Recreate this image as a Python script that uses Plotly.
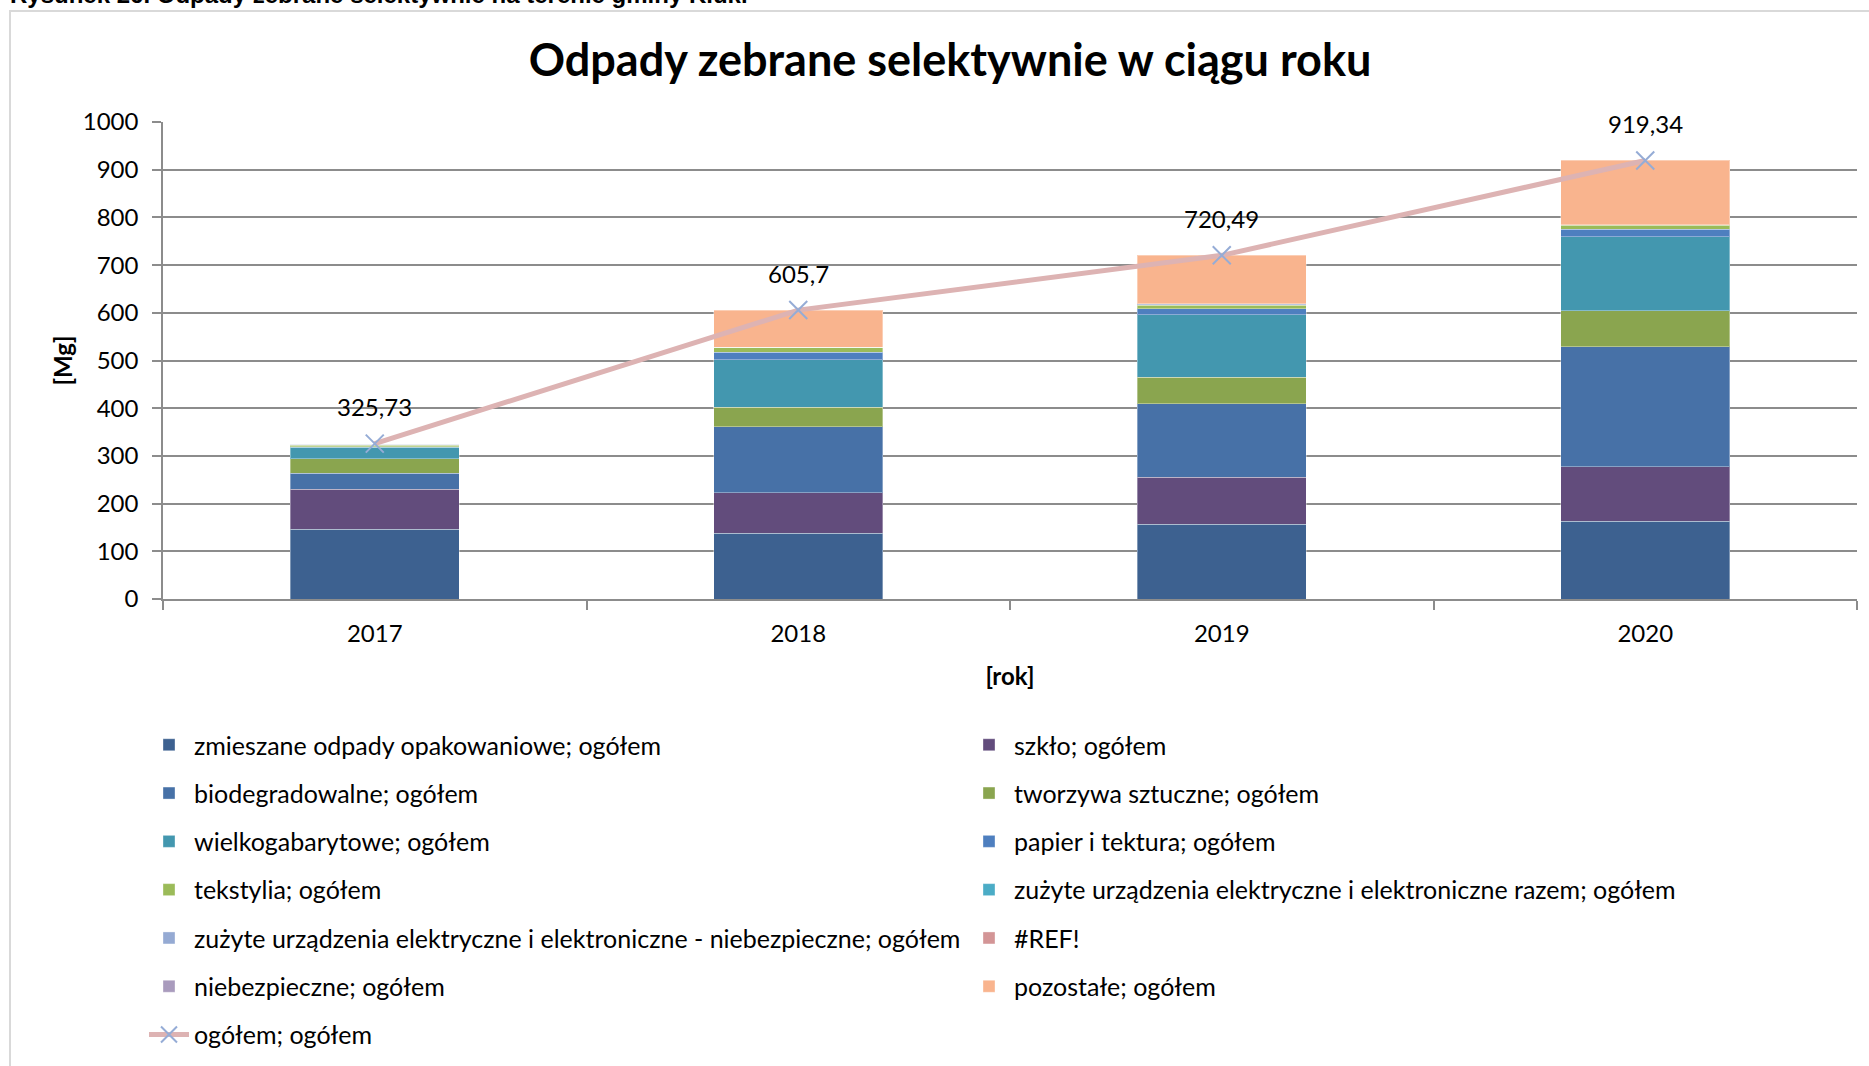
import plotly.graph_objects as go

# ---------------- data ----------------
years = ["2017", "2018", "2019", "2020"]

zmieszane = [146.0, 137.6, 156.4, 163.4]
szklo = [84.5, 85.1, 98.6, 113.8]
biodegradowalne = [33.5, 138.3, 154.0, 251.4]
tworzywa = [30.0, 40.6, 56.0, 76.2]
wielkogabarytowe = [24.0, 100.4, 131.4, 154.8]
papier = [1.5, 15.5, 12.0, 15.4]
tekstylia = [3.0, 9.8, 7.0, 8.6]
zuzyte_razem = [1.0, 0.0, 1.0, 0.5]
zuzyte_niebezp = [0.5, 0.0, 2.5, 0.0]
ref_err = [0.0, 0.0, 0.0, 0.0]
niebezpieczne = [0.5, 0.3, 0.5, 0.5]
pozostale = [1.23, 78.1, 101.09, 134.74]
ogolem = [325.73, 605.7, 720.49, 919.34]
ogolem_labels = ["325,73", "605,7", "720,49", "919,34"]

series_names = [
    "zmieszane odpady opakowaniowe; ogółem",
    "szkło; ogółem",
    "biodegradowalne; ogółem",
    "tworzywa sztuczne; ogółem",
    "wielkogabarytowe; ogółem",
    "papier i tektura; ogółem",
    "tekstylia; ogółem",
    "zużyte urządzenia elektryczne i elektroniczne razem; ogółem",
    "zużyte urządzenia elektryczne i elektroniczne - niebezpieczne; ogółem",
    "#REF!",
    "niebezpieczne; ogółem",
    "pozostałe; ogółem",
]
series_values = [zmieszane, szklo, biodegradowalne, tworzywa, wielkogabarytowe,
                 papier, tekstylia, zuzyte_razem, zuzyte_niebezp, ref_err,
                 niebezpieczne, pozostale]
series_colors = ["#3D6190", "#624C7C", "#4771A7", "#8AA54F", "#4397AF", "#4E7FBF",
                 "#9BBB59", "#4BACC6", "#95AAD3", "#D39596", "#A99BBD", "#F9B48E"]
series_legend = ["legend", "legend2", "legend", "legend2", "legend", "legend2",
                 "legend", "legend2", "legend", "legend2", "legend", "legend2"]

line_name = "ogółem; ogółem"

FONT = "Lato"

fig = go.Figure()
for i, (name, vals, col, lg) in enumerate(zip(series_names, series_values, series_colors, series_legend)):
    fig.add_trace(go.Bar(
        x=years, y=vals, name=name,
        marker=dict(color=col, line=dict(color="rgba(255,255,255,0.35)", width=1)),
        width=0.4, legend=lg, legendgroup="g%d" % i,
    ))

fig.add_trace(go.Scatter(
    x=years, y=ogolem, name=line_name, mode="lines+markers",
    line=dict(color="#DDB3B3", width=5),
    marker=dict(symbol="x-thin", size=18, color="#95ACD6",
                line=dict(color="#95ACD6", width=2)),
    legend="legend", legendgroup="gline",
))

# value labels above the total line (category index on the x axis)
for idx, (v, t) in enumerate(zip(ogolem, ogolem_labels)):
    fig.add_annotation(x=idx, y=v, xref="x", yref="y", text=t, showarrow=False, yshift=37,
                       font=dict(family=FONT, size=24, color="#000000"))

# plot area geometry (px)
W, H = 1869, 1066
L, R, T, B = 163, 12, 122, 467
pw = W - L - R
ph = H - T - B


def px_x(p):
    return (p - L) / pw


def px_y(p):
    return (H - B - p) / ph


fig.update_layout(
    width=W, height=H,
    margin=dict(l=L, r=R, t=T, b=B, autoexpand=False),
    paper_bgcolor="white", plot_bgcolor="white",
    barmode="stack",
    font=dict(family=FONT, size=24, color="#000000"),
    title=dict(text="<b>Odpady zebrane selektywnie w ciągu roku</b>",
               x=950 / W, xanchor="center", xref="container",
               y=1 - 60 / H, yanchor="middle", yref="container",
               font=dict(family=FONT, size=45, color="#000000")),
    xaxis=dict(
        type="category", range=[-0.5, 3.5], showgrid=False,
        showline=True, linecolor="#8C8C8C", linewidth=1.5,
        ticks="outside", tickson="boundaries", ticklen=9, tickcolor="#8C8C8C", tickwidth=1.5,
        ticklabelstandoff=12, tickangle=0,
        tickfont=dict(family=FONT, size=24, color="#000000"),
        title=dict(text="<b>[rok]</b>", standoff=23,
                   font=dict(family=FONT, size=24, color="#000000")),
    ),
    yaxis=dict(
        range=[0, 1000], tickmode="linear", tick0=0, dtick=100,
        showgrid=True, gridcolor="#8C8C8C", gridwidth=1.5,
        showline=True, linecolor="#8C8C8C", linewidth=1.5,
        ticks="outside", ticklen=9, tickcolor="#8C8C8C", tickwidth=1.5,
        ticklabelstandoff=9,
        zeroline=False,
        tickfont=dict(family=FONT, size=24, color="#000000"),
        title=dict(text="<b>[Mg]</b>", standoff=3,
                   font=dict(family=FONT, size=24, color="#000000")),
    ),
    legend=dict(
        orientation="v", traceorder="grouped", tracegroupgap=12.8,
        x=px_x(144), xanchor="left", y=px_y(722), yanchor="top",
        font=dict(family=FONT, size=25, color="#000000"),
        bgcolor="rgba(0,0,0,0)", itemwidth=40,
    ),
    legend2=dict(
        orientation="v", traceorder="grouped", tracegroupgap=12.8,
        x=px_x(964), xanchor="left", y=px_y(722), yanchor="top",
        font=dict(family=FONT, size=25, color="#000000"),
        bgcolor="rgba(0,0,0,0)", itemwidth=40,
    ),
    showlegend=True,
)

# chart frame and cropped caption
fig.add_shape(type="rect", xref="paper", yref="paper",
              x0=px_x(10), x1=px_x(1920), y0=px_y(1120), y1=px_y(11),
              line=dict(color="#D9D9D9", width=2), fillcolor="rgba(0,0,0,0)", layer="below")
fig.add_annotation(xref="paper", yref="paper", x=px_x(8), y=px_y(10),
                   xanchor="left", yanchor="bottom", showarrow=False,
                   text="<b>Rysunek 26. Odpady zebrane selektywnie na terenie gminy Kluki</b>",
                   font=dict(family="Liberation Sans", size=24, color="#000000"))

fig.write_html("out.html", config={"displayModeBar": False},
               post_script="document.body.style.margin='0';document.body.style.overflow='hidden';")
